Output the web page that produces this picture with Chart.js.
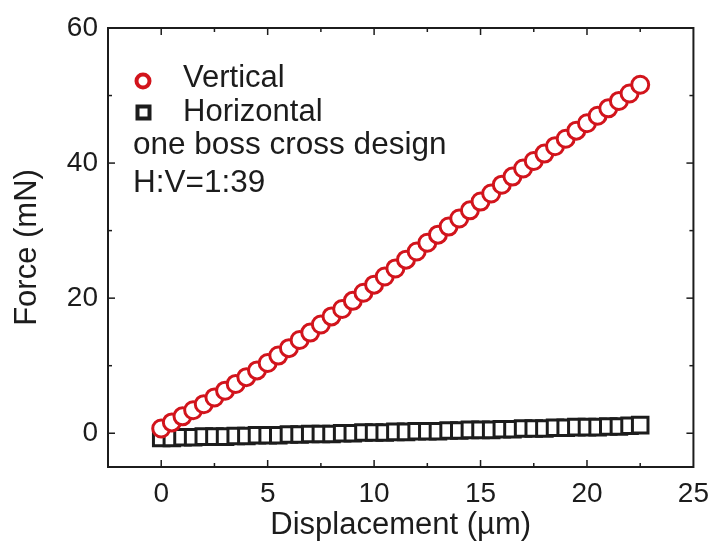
<!DOCTYPE html>
<html>
<head>
<meta charset="utf-8">
<title>Force vs displacement</title>
<script src="https://cdn.jsdelivr.net/npm/chart.js@4.4.1/dist/chart.umd.min.js"></script>
<style>
  html, body { margin:0; padding:0; background:#fff; }
  #wrap { width:719px; height:544px; }
</style>
</head>
<body>
<div id="wrap"><canvas id="chart" width="719" height="544"></canvas></div>
<script>
// ---------- Data
const displacement = [0,0.5,1,1.5,2,2.5,3,3.5,4,4.5,5,5.5,6,6.5,7,7.5,8,8.5,9,9.5,10,10.5,11,11.5,12,12.5,13,13.5,14,14.5,15,15.5,16,16.5,17,17.5,18,18.5,19,19.5,20,20.5,21,21.5,22,22.5];
const verticalForce = [0.7,1.6,2.5,3.4,4.3,5.3,6.3,7.3,8.3,9.3,10.4,11.5,12.6,13.8,14.9,16.1,17.3,18.4,19.6,20.8,22.0,23.2,24.4,25.7,26.9,28.2,29.4,30.6,31.8,33.0,34.3,35.5,36.8,38.0,39.2,40.3,41.4,42.5,43.6,44.8,45.9,47.0,48.1,49.2,50.3,51.6];
const horizontalForce = [-0.7,-0.7,-0.6,-0.6,-0.5,-0.5,-0.5,-0.4,-0.4,-0.3,-0.3,-0.3,-0.2,-0.2,-0.1,-0.1,-0.1,0.0,0.0,0.1,0.1,0.1,0.2,0.2,0.3,0.3,0.3,0.4,0.4,0.5,0.5,0.5,0.6,0.6,0.7,0.7,0.7,0.8,0.8,0.9,0.9,0.9,1.0,1.0,1.1,1.2];
const xTicks = [0,5,10,15,20,25];
const xMinorTicks = [2.5,7.5,12.5,17.5,22.5];
const yTicks = [0,20,40,60];
const yMinorTicks = [10,30,50];
const legendLines = ['Vertical','Horizontal','one boss cross design','H:V=1:39'];

const red = '#d2141c';
const ink = '#1c1c1c';
const font = "'Liberation Sans', Arial, sans-serif";

function pts(xs, ys){ return xs.map((x,i)=>({x, y:ys[i]})); }

// ---------- Frame, inward ticks, legend
const framePlugin = {
  id:'frame',
  afterDraw(chart){
    const {ctx, chartArea:a, scales:{x, y}} = chart;
    ctx.save();
    ctx.strokeStyle = ink; ctx.lineWidth = 1.5;
    const tick = (x1,y1,x2,y2)=>{ ctx.beginPath(); ctx.moveTo(x1,y1); ctx.lineTo(x2,y2); ctx.stroke(); };
    xTicks.forEach(v=>{ const p=x.getPixelForValue(v); if(p>a.left+1 && p<a.right-1){ tick(p,a.bottom,p,a.bottom-7); tick(p,a.top,p,a.top+7);} });
    xMinorTicks.forEach(v=>{ const p=x.getPixelForValue(v); tick(p,a.bottom,p,a.bottom-4); tick(p,a.top,p,a.top+4); });
    yTicks.forEach(v=>{ const p=y.getPixelForValue(v); if(p>a.top+1 && p<a.bottom-1){ tick(a.left,p,a.left+7,p); tick(a.right,p,a.right-7,p);} });
    yMinorTicks.forEach(v=>{ const p=y.getPixelForValue(v); tick(a.left,p,a.left+4,p); tick(a.right,p,a.right-4,p); });
    ctx.lineWidth = 2;
    ctx.strokeRect(a.left, a.top, a.right-a.left, a.bottom-a.top);

    // legend markers
    ctx.strokeStyle = red; ctx.lineWidth = 4;
    ctx.beginPath(); ctx.arc(a.left+35, a.top+53, 6.5, 0, Math.PI*2); ctx.stroke();
    ctx.strokeStyle = ink; ctx.lineWidth = 4;
    ctx.strokeRect(a.left+35.5-6, a.top+84.5-6, 12, 12);

    // legend text
    ctx.fillStyle = ink;
    ctx.font = '31px ' + font;
    ctx.textBaseline = 'alphabetic';
    ctx.fillText(legendLines[0], a.left+75, a.top+59);
    ctx.fillText(legendLines[1], a.left+75, a.top+93);
    ctx.font = '31.5px ' + font;
    ctx.fillText(legendLines[2], a.left+25, a.top+126);
    ctx.fillText(legendLines[3], a.left+25, a.top+164);
    ctx.restore();
  }
};

const chart = new Chart(document.getElementById('chart'), {
  type:'scatter',
  data:{
    datasets:[
      { label:'Vertical', data:pts(displacement, verticalForce), pointStyle:'circle', pointRadius:8.5, pointBorderWidth:3,
        borderColor:red, backgroundColor:'#fff', pointBackgroundColor:'#fff', pointBorderColor:red, showLine:false },
      { label:'Horizontal', data:pts(displacement, horizontalForce), pointStyle:'rect', pointRadius:11, pointBorderWidth:3,
        borderColor:ink, backgroundColor:'#fff', pointBackgroundColor:'#fff', pointBorderColor:ink, showLine:false }
    ]
  },
  options:{
    responsive:false, animation:false, events:[],
    layout:{ padding:{ left:0, right:19, top:28, bottom:0 } },
    plugins:{ legend:{display:false}, tooltip:{enabled:false} },
    scales:{
      x:{
        type:'linear', min:-2.5, max:25,
        afterBuildTicks: s => { s.ticks = xTicks.map(v=>({value:v})); },
        afterFit: s => { s.height = 77; },
        grid:{ display:false, drawTicks:false }, border:{ display:false },
        ticks:{ color:ink, padding:10, font:{ family:font, size:28 }, maxRotation:0 },
        title:{ display:true, text:'Displacement (µm)', color:ink, padding:{top:0,bottom:0}, font:{ family:font, size:31 } }
      },
      y:{
        type:'linear', min:-5, max:60,
        afterBuildTicks: s => { s.ticks = yTicks.map(v=>({value:v})); },
        afterFit: s => { s.width = 108; },
        grid:{ display:false, drawTicks:false }, border:{ display:false },
        ticks:{ color:ink, padding:10, font:{ family:font, size:28 } },
        title:{ display:true, text:'Force (mN)', color:ink, padding:{top:9,bottom:0}, font:{ family:font, size:31 } }
      }
    }
  },
  plugins:[framePlugin]
});
</script>
</body>
</html>
